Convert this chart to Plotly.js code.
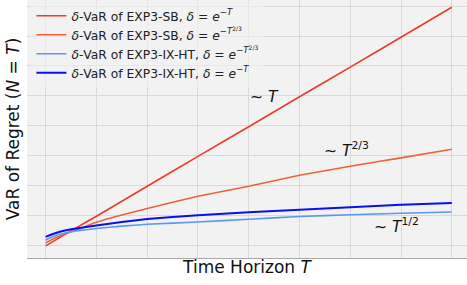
<!DOCTYPE html>
<html>
<head>
<meta charset="utf-8">
<script src="https://cdn.plot.ly/plotly-3.0.1.min.js"></script>
<style>html,body{margin:0;padding:0;background:#fff;}#chart{width:467px;height:285px;}</style>
</head>
<body>
<div id="chart"></div>
<script>
// Time horizon (grid units)
const T = [0, 0.1, 0.2, 0.4, 0.6, 1, 1.5, 2, 3, 4, 5, 6, 7, 8];
// VaR of regret (grid units)
const sbExp = [-0.01, 0.09, 0.19, 0.39, 0.59, 0.98, 1.48, 1.98, 2.98, 3.97, 4.97, 5.96, 6.96, 7.96];
const sbExp23 = [0.09, 0.18, 0.26, 0.40, 0.52, 0.78, 1.02, 1.24, 1.65, 1.98, 2.35, 2.65, 2.93, 3.22];
const ixExp23 = [0.18, 0.27, 0.34, 0.43, 0.49, 0.57, 0.65, 0.71, 0.79, 0.88, 0.97, 1.03, 1.08, 1.12];
const ixExp = [0.29, 0.36, 0.42, 0.51, 0.57, 0.67, 0.79, 0.89, 1.01, 1.11, 1.20, 1.28, 1.36, 1.42];

const names = [
  "<i>δ</i>-VaR of EXP3-SB, <i>δ</i> = <i>e</i><sup>−<i>T</i></sup>",
  "<i>δ</i>-VaR of EXP3-SB, <i>δ</i> = <i>e</i><sup>−<i>T</i><sup>2/3</sup></sup>",
  "<i>δ</i>-VaR of EXP3-IX-HT, <i>δ</i> = <i>e</i><sup>−<i>T</i><sup>2/3</sup></sup>",
  "<i>δ</i>-VaR of EXP3-IX-HT, <i>δ</i> = <i>e</i><sup>−<i>T</i></sup>"
];
const colors = ["#ee3a2c", "#ec6238", "#5b98ee", "#0a0ff0"];
const widths = [1.6, 1.6, 1.6, 2];
const series = [sbExp, sbExp23, ixExp23, ixExp];

const data = series.map((s, i) => ({
  x: T, y: s, type: "scatter", mode: "lines", name: names[i],
  line: {color: colors[i], width: widths[i], shape: "spline", smoothing: 0.3}
}));

const layout = {
  width: 467, height: 285,
  margin: {l: 27, r: 0, t: 0, b: 27},
  paper_bgcolor: "#ffffff",
  plot_bgcolor: "#f2f2f2",
  font: {family: "DejaVu Sans", color: "#111"},
  showlegend: true,
  legend: {
    x: 0.01, y: 0.995, xanchor: "left", yanchor: "top",
    bgcolor: "rgba(242,242,242,0.6)",
    font: {size: 12.3, family: "DejaVu Sans", color: "#222"},
    tracegroupgap: 0
  },
  xaxis: {
    range: [-0.368, 8.3], dtick: 1, tick0: 0,
    showticklabels: false, ticks: "",
    showgrid: true, gridcolor: "#d9d9d9", gridwidth: 1,
    zeroline: false, showline: true, linecolor: "#a8a8a8", linewidth: 1.3,
    title: {text: "Time Horizon <i>T</i>", font: {size: 17, family: "DejaVu Sans", color: "#111"}, standoff: 2}
  },
  yaxis: {
    range: [-0.415, 8.204], dtick: 1, tick0: 0,
    showticklabels: false, ticks: "",
    showgrid: true, gridcolor: "#d9d9d9", gridwidth: 1,
    zeroline: false, showline: false,
    title: {text: "VaR of Regret (<i>N</i> = <i>T</i>)", font: {size: 17, family: "DejaVu Sans", color: "#111"}, standoff: 2}
  },
  annotations: [
    {x: 4.32, y: 4.97, xref: "x", yref: "y", text: "∼ <i>T</i>", showarrow: false, font: {size: 15.5, family: "DejaVu Sans", color: "#111"}},
    {x: 5.93, y: 3.22, xref: "x", yref: "y", text: "∼ <i>T</i><sup>2/3</sup>", showarrow: false, font: {size: 15.5, family: "DejaVu Sans", color: "#111"}},
    {x: 6.92, y: 0.68, xref: "x", yref: "y", text: "∼ <i>T</i><sup>1/2</sup>", showarrow: false, font: {size: 15.5, family: "DejaVu Sans", color: "#111"}}
  ]
};

Plotly.newPlot("chart", data, layout, {displayModeBar: false, staticPlot: true});
</script>
</body>
</html>
